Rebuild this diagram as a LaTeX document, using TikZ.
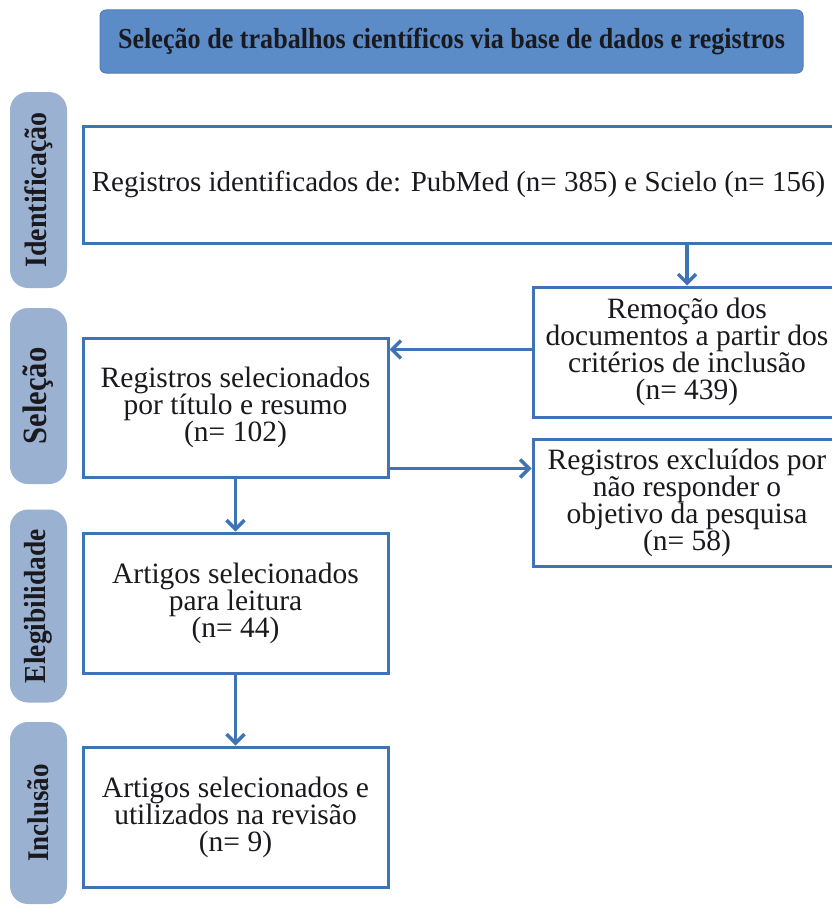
\documentclass[tikz,border=0pt]{standalone}
\usepackage{fontspec}
\setmainfont{Liberation Serif}
\newfontfamily\condfont[FakeStretch=0.9]{Liberation Serif}
\usetikzlibrary{arrows.meta}
\definecolor{titlefill}{RGB}{91,140,200}
\definecolor{titleline}{RGB}{80,125,185}
\definecolor{pillfill}{RGB}{155,177,210}
\definecolor{boxline}{RGB}{62,116,181}
\definecolor{txt}{RGB}{25,25,30}
\begin{document}
\begin{tikzpicture}[x=1pt,y=-1pt,
  box/.style={draw=boxline, line width=3pt, fill=white, align=center, text=txt,
    inner sep=0pt, font=\fontsize{29.5}{27}\selectfont},
  pill/.style={fill=pillfill, rounded corners=18pt, rotate=90, inner sep=0pt,
    minimum height=57pt, text=txt},
  pillfont/.style={font=\condfont\bfseries\fontsize{#1}{30}\selectfont},
  arr/.style={draw=boxline, line width=3.5pt, -{Straight Barb[length=9pt,width=18pt]}}]
\useasboundingbox (0,0) rectangle (831,907);

% title
\node[fill=titlefill, draw=titleline, line width=1pt, rounded corners=6pt,
  minimum width=703pt, minimum height=63pt, inner sep=0pt, text=txt,
  font=\condfont\bfseries\fontsize{29}{30}\selectfont] (title) at (451.5,41.5)
  {Seleção de trabalhos científicos via base de dados e registros};

% side pills
\node[pill, pillfont=31, minimum width=196pt] (pid) at (38.5,190) {Identificação};
\node[pill, pillfont=34, minimum width=176pt] (psel) at (38.5,396) {Seleção};
\node[pill, pillfont=30.5, minimum width=193pt] (pele) at (38.5,606) {Elegibilidade};
\node[pill, pillfont=30, minimum width=182pt] (pinc) at (38.5,813) {Inclusão};

% boxes
\node[box, font=\fontsize{29}{27}\selectfont, minimum width=751pt, minimum height=117pt] (main) at (458.5,184.5)
  {Registros identificados de: PubMed (n= 385) e Scielo (n= 156)};
\node[box, minimum width=308pt, minimum height=130pt] (remo) at (687,352)
  {Remoção dos\\documentos a partir dos\\critérios de inclusão\\(n= 439)};
\node[box, minimum width=308pt, minimum height=127pt] (excl) at (687,502.5)
  {Registros excluídos por\\não responder o\\objetivo da pesquisa\\(n= 58)};
\node[box, minimum width=305pt, minimum height=139pt] (sel) at (235.5,407.5)
  {Registros selecionados\\por título e resumo\\(n= 102)};
\node[box, minimum width=305pt, minimum height=140pt] (leit) at (235.5,603)
  {Artigos selecionados\\para leitura\\(n= 44)};
\node[box, minimum width=305pt, minimum height=140pt] (util) at (235.5,817)
  {Artigos selecionados e\\utilizados na revisão\\(n= 9)};

% connectors
\draw[arr] (main.south -| remo.north) -- (remo.north);
\draw[arr] ([yshift=-64pt]remo.north west) coordinate (a1) -- (a1 -| sel.east);
\draw[arr] ([yshift=10pt]sel.south east) coordinate (a2) -- (a2 -| excl.west);
\draw[arr] (sel.south) -- (leit.north);
\draw[arr] (leit.south) -- (util.north);
\end{tikzpicture}
\end{document}
